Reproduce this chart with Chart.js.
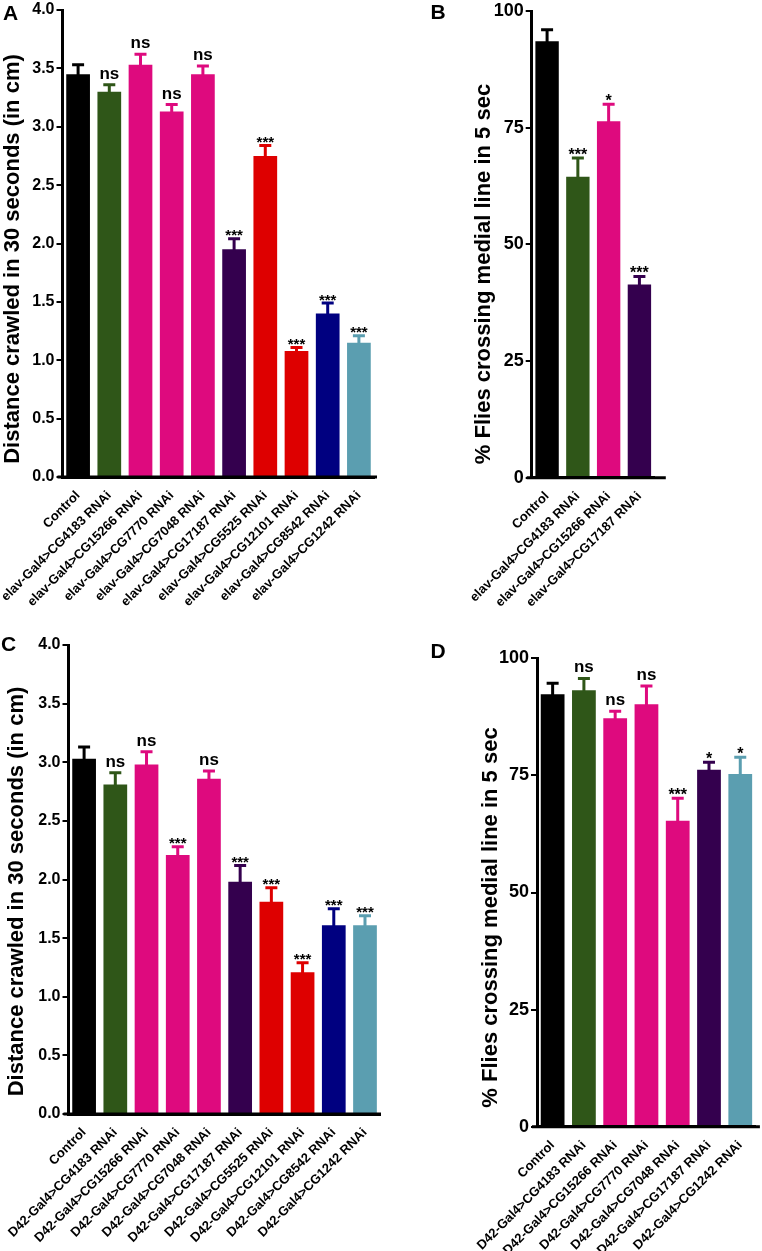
<!DOCTYPE html>
<html><head><meta charset="utf-8">
<script src="https://cdn.jsdelivr.net/npm/chart.js@4"></script>
<style>
html,body{margin:0;padding:0;background:#fff;width:762px;height:1251px;overflow:hidden;}
canvas{position:absolute;display:block;}
</style></head><body>
<canvas id="cA" width="381" height="625" style="left:0;top:0"></canvas>
<canvas id="cB" width="381" height="625" style="left:381px;top:0"></canvas>
<canvas id="cC" width="381" height="626" style="left:0;top:625px"></canvas>
<canvas id="cD" width="381" height="626" style="left:381px;top:625px"></canvas>
<script>
// ---------- DATA ----------
const CAT_A = ['Control','elav-Gal4>CG4183 RNAi','elav-Gal4>CG15266 RNAi','elav-Gal4>CG7770 RNAi','elav-Gal4>CG7048 RNAi','elav-Gal4>CG17187 RNAi','elav-Gal4>CG5525 RNAi','elav-Gal4>CG12101 RNAi','elav-Gal4>CG8542 RNAi','elav-Gal4>CG1242 RNAi'];
const VAL_A = [3.45, 3.30, 3.53, 3.13, 3.45, 1.95, 2.75, 1.08, 1.40, 1.15];
const ERR_A = [0.08, 0.06, 0.09, 0.06, 0.07, 0.09, 0.09, 0.03, 0.09, 0.06];
const SIG_A = ['', 'ns', 'ns', 'ns', 'ns', '***', '***', '***', '***', '***'];

const CAT_B = ['Control','elav-Gal4>CG4183 RNAi','elav-Gal4>CG15266 RNAi','elav-Gal4>CG17187 RNAi'];
const VAL_B = [93.5, 64.5, 76.4, 41.4];
const ERR_B = [2.5, 4.0, 3.6, 1.7];
const SIG_B = ['', '***', '*', '***'];

const CAT_C = ['Control','D42-Gal4>CG4183 RNAi','D42-Gal4>CG15266 RNAi','D42-Gal4>CG7770 RNAi','D42-Gal4>CG7048 RNAi','D42-Gal4>CG17187 RNAi','D42-Gal4>CG5525 RNAi','D42-Gal4>CG12101 RNAi','D42-Gal4>CG8542 RNAi','D42-Gal4>CG1242 RNAi'];
const VAL_C = [3.03, 2.81, 2.98, 2.21, 2.86, 1.98, 1.81, 1.21, 1.61, 1.61];
const ERR_C = [0.10, 0.10, 0.11, 0.07, 0.065, 0.14, 0.12, 0.08, 0.14, 0.08];
const SIG_C = ['', 'ns', 'ns', '***', 'ns', '***', '***', '***', '***', '***'];

const CAT_D = ['Control','D42-Gal4>CG4183 RNAi','D42-Gal4>CG15266 RNAi','D42-Gal4>CG7770 RNAi','D42-Gal4>CG7048 RNAi','D42-Gal4>CG17187 RNAi','D42-Gal4>CG1242 RNAi'];
const VAL_D = [92.3, 93.2, 87.2, 90.2, 65.3, 76.2, 75.3];
const ERR_D = [2.4, 2.5, 1.5, 3.9, 4.8, 1.6, 3.6];
const SIG_D = ['', 'ns', 'ns', 'ns', '***', '*', '*'];

const TITLE_DIST = 'Distance crawled in 30 seconds (in cm)';
const TITLE_FLIES = '% Flies crossing medial line in 5 sec';

// ---------- STYLE ----------
const BLACK = '#000000', GREEN = '#2f5618', MAGENTA = '#de0a7e', PURPLE = '#34004e', RED = '#de0000', NAVY = '#000080', TEAL = '#5b9eb0';
const COL_A = [BLACK, GREEN, MAGENTA, MAGENTA, MAGENTA, PURPLE, RED, RED, NAVY, TEAL];
const COL_B = [BLACK, GREEN, MAGENTA, PURPLE];
const COL_C = [BLACK, GREEN, MAGENTA, MAGENTA, MAGENTA, PURPLE, RED, RED, NAVY, TEAL];
const COL_D = [BLACK, GREEN, MAGENTA, MAGENTA, MAGENTA, PURPLE, TEAL];
const FONT = '"Liberation Sans", Arial, Helvetica, sans-serif';

const panels = [
  {id:'cA', w:381, h:625, cats:CAT_A, vals:VAL_A, errs:ERR_A, sigs:SIG_A, colors:COL_A, yMax:4, yStep:0.5, dec:1,
   cL:62.5, cT:8, cR:374.5, cB:477, tick:16, ext:2.5, rot:45, letter:'A', lx:3, ly:19.5, title:TITLE_DIST, tx:19, ty:259, ast:15},
  {id:'cB', w:381, h:625, cats:CAT_B, vals:VAL_B, errs:ERR_B, sigs:SIG_B, colors:COL_B, yMax:100, yStep:25, dec:0,
   cL:150.7, cT:9.3, cR:273.8, cB:477.7, tick:18, ext:11, rot:45, letter:'B', lx:49.5, ly:18.5, title:TITLE_FLIES, tx:109, ty:274, ast:16},
  {id:'cC', w:381, h:626, cats:CAT_C, vals:VAL_C, errs:ERR_C, sigs:SIG_C, colors:COL_C, yMax:4, yStep:0.5, dec:1,
   cL:68.5, cT:20, cR:380.6, cB:489, tick:16, ext:0.4, rot:45, letter:'C', lx:1, ly:25.7, title:TITLE_DIST, tx:23.3, ty:266.5, ast:15},
  {id:'cD', w:381, h:626, cats:CAT_D, vals:VAL_D, errs:ERR_D, sigs:SIG_D, colors:COL_D, yMax:100, yStep:25, dec:0,
   cL:156, cT:33.3, cR:374.9, cB:501.7, tick:18, ext:4, rot:45, letter:'D', lx:49.5, ly:33.3, title:TITLE_FLIES, tx:115.7, ty:292.5, ast:16}
];

const decor = {
  id: 'decor',
  afterDatasetsDraw(chart) {
    const p = chart.options.plugins.decor.panel;
    const ctx = chart.ctx, y = chart.scales.y, meta = chart.getDatasetMeta(0);
    ctx.save();
    meta.data.forEach((bar, i) => {
      const top = y.getPixelForValue(p.vals[i]);
      const et = y.getPixelForValue(p.vals[i] + p.errs[i]);
      ctx.strokeStyle = p.colors[i];
      ctx.lineWidth = 3;
      ctx.lineCap = 'butt';
      ctx.beginPath();
      ctx.moveTo(bar.x, top + 2); ctx.lineTo(bar.x, et);
      ctx.moveTo(bar.x - 6, et); ctx.lineTo(bar.x + 6, et);
      ctx.stroke();
      const s = p.sigs[i];
      if (s) {
        ctx.fillStyle = '#000';
        ctx.textAlign = 'center';
        ctx.textBaseline = 'alphabetic';
        if (s === 'ns') { ctx.font = 'bold 17px ' + FONT; ctx.fillText(s, bar.x, et - 6); }
        else { ctx.font = 'bold ' + p.ast + 'px ' + FONT; ctx.fillText(s, bar.x, et + 1.5); }
      }
    });
    ctx.restore();
  },
  afterDraw(chart) {
    const p = chart.options.plugins.decor.panel;
    const ctx = chart.ctx, a = chart.chartArea;
    ctx.save();
    // x axis extension
    ctx.strokeStyle = '#000'; ctx.lineWidth = 3;
    ctx.beginPath();
    ctx.moveTo(a.left - 5, a.bottom); ctx.lineTo(a.right + p.ext, a.bottom);
    ctx.stroke();
    // panel letter
    ctx.fillStyle = '#000';
    ctx.font = 'bold 21px ' + FONT;
    ctx.textAlign = 'left'; ctx.textBaseline = 'alphabetic';
    ctx.fillText(p.letter, p.lx, p.ly);
    // y title
    ctx.translate(p.tx, p.ty);
    ctx.rotate(-Math.PI / 2);
    ctx.font = 'bold 22px ' + FONT;
    ctx.textAlign = 'center';
    ctx.fillText(p.title, 0, 0);
    ctx.restore();
  }
};

panels.forEach(p => {
  new Chart(document.getElementById(p.id), {
    type: 'bar',
    data: {
      labels: p.cats,
      datasets: [{ data: p.vals, backgroundColor: p.colors, borderWidth: 0, categoryPercentage: 1, barPercentage: 0.76 }]
    },
    plugins: [decor],
    options: {
      responsive: false, animation: false, devicePixelRatio: 1,
      layout: { padding: { left: 0, top: p.cT, right: p.w - p.cR, bottom: 0 } },
      plugins: { legend: { display: false }, tooltip: { enabled: false }, decor: { panel: p } },
      scales: {
        x: {
          grid: { display: false },
          border: { display: true, color: '#000', width: 3, z: 1 },
          ticks: { color: '#000', font: { family: FONT, size: 13, weight: 'bold' }, minRotation: p.rot, maxRotation: p.rot, padding: 3, autoSkip: false },
          afterFit: s => { s.height = p.h - p.cB; }
        },
        y: {
          min: 0, max: p.yMax,
          grid: { display: true, drawOnChartArea: false, drawTicks: true, tickLength: 6, lineWidth: 2, color: '#000' },
          border: { display: true, color: '#000', width: 3, z: 1 },
          ticks: { stepSize: p.yStep, color: '#000', padding: 2, font: { family: FONT, size: p.tick, weight: 'bold', lineHeight: 1 },
                   callback: v => v.toFixed(p.dec) },
          afterFit: s => { s.width = p.cL; }
        }
      }
    }
  });
});
</script>
</body></html>
